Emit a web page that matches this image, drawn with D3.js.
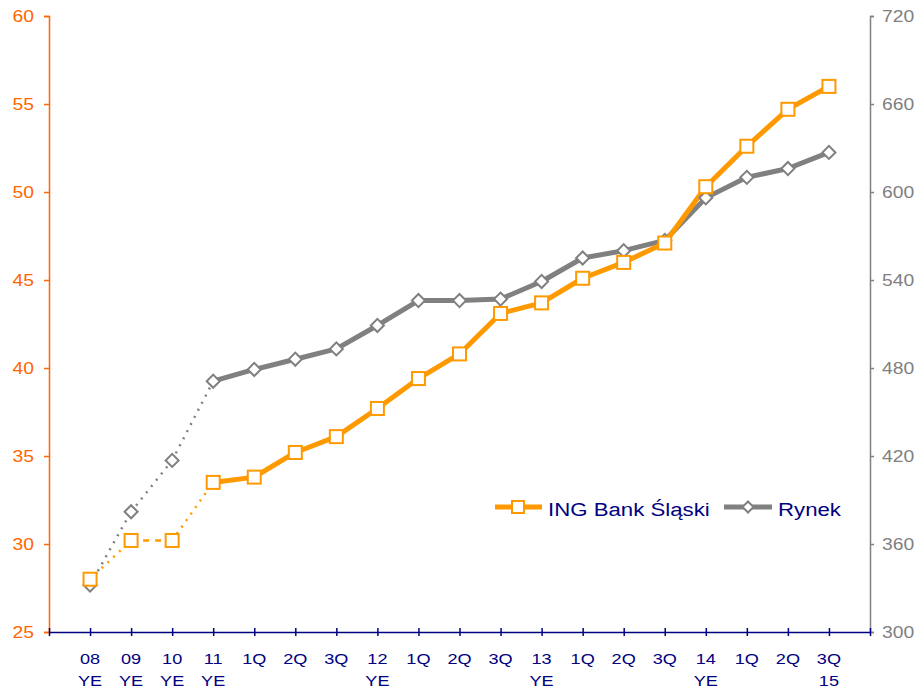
<!DOCTYPE html>
<html><head><meta charset="utf-8">
<script src="https://cdn.jsdelivr.net/npm/d3@7"></script>
<style>body{margin:0;background:#fff}svg{display:block;font-family:"Liberation Sans",Arial,sans-serif}</style>
</head><body><svg id="c" width="916" height="690"></svg>
<script>
const labelsTop = ["08","09","10","11","1Q","2Q","3Q","12","1Q","2Q","3Q","13","1Q","2Q","3Q","14","1Q","2Q","3Q"];
const labelsBottom = ["YE","YE","YE","YE","","","","YE","","","","YE","","","","YE","","","15"];
const ingValues = [28.0,30.2,30.2,33.5,33.8,35.2,36.1,37.7,39.4,40.8,43.1,43.7,45.1,46.0,47.1,50.3,52.6,54.7,56.0];
const rynekValues = [332,382,417,471,479,486,493,509,526,526,527,539,555,560,567,596,610,616,627];
const leftTicks = [25,30,35,40,45,50,55,60];
const rightTicks = [300,360,420,480,540,600,660,720];
const seriesNames = ["ING Bank Śląski","Rynek"];

const svg = d3.select("#c");
const L = 49, R = 870, T = 16, B = 632;
const SX = 1.17;
const x = d3.scaleLinear().domain([0, labelsTop.length + 1]).range([L, R]);
const yL = d3.scaleLinear().domain([25, 60]).range([B, T]);
const yR = d3.scaleLinear().domain([300, 720]).range([B, T]);
const orange = "#FF9900", gray = "#808080", navy = "#000080", axisOrange = "#FF6600";

function txt(g, tx, ty, s, size, color, anchor) {
  return g.append("text").attr("transform", `translate(${tx},${ty}) scale(${SX},1)`)
    .attr("text-anchor", anchor).attr("fill", color).style("font-size", size + "px").text(s);
}

// left axis
const gl = svg.append("g").attr("transform", `translate(${L},0)`)
  .call(d3.axisLeft(yL).tickValues(leftTicks).tickSize(5).tickFormat(""));
gl.select(".domain").attr("stroke", axisOrange).attr("stroke-width", 1.5);
gl.selectAll(".tick line").attr("stroke", axisOrange).attr("stroke-width", 1.5);
leftTicks.forEach(v => txt(svg, 34, yL(v) + 5.5, v, 16.5, axisOrange, "end"));

// right axis
const gr = svg.append("g").attr("transform", `translate(${R},0)`)
  .call(d3.axisRight(yR).tickValues(rightTicks).tickSize(4).tickFormat(""));
gr.select(".domain").attr("stroke", gray).attr("stroke-width", 1.5);
gr.selectAll(".tick line").attr("stroke", gray).attr("stroke-width", 1.5);
rightTicks.forEach(v => txt(svg, 882, yR(v) + 5.5, v, 16.5, gray, "start"));

// bottom axis
const idx = d3.range(0, labelsTop.length + 2);
const gb = svg.append("g").attr("transform", `translate(0,${B})`)
  .call(d3.axisBottom(x).tickValues(idx).tickSize(0).tickFormat(""));
gb.select(".domain").attr("stroke", navy).attr("stroke-width", 1.5);
gb.selectAll(".tick line").attr("y1", -4).attr("y2", 4).attr("stroke", navy).attr("stroke-width", 1.5);
const lab = svg.append("g");
labelsTop.forEach((t, i) => {
  txt(lab, x(i + 1), 664, t, 15.5, navy, "middle");
  if (labelsBottom[i]) txt(lab, x(i + 1), 686, labelsBottom[i], 15.5, navy, "middle");
});

function drawSeries(vals, y, color, dashed) {
  const pts = vals.map((v, i) => [x(i + 1), y(v)]);
  const line = d3.line();
  for (let i = 0; i < 3; i++) {
    const p = svg.append("path").attr("d", line([pts[i], pts[i + 1]])).attr("fill", "none")
      .attr("stroke", color).attr("stroke-width", 2.5);
    if (dashed.includes(i)) p.attr("stroke-dasharray", "6,6");
    else p.attr("stroke-dasharray", "2,6");
  }
  svg.append("path").attr("d", line(pts.slice(3))).attr("fill", "none")
    .attr("stroke", color).attr("stroke-width", 5).attr("stroke-linejoin", "round");
  return pts;
}

const pr = drawSeries(rynekValues, yR, gray, []);
const pi = drawSeries(ingValues, yL, orange, [1]);

// markers
svg.append("g").selectAll("path").data(pr).join("path")
  .attr("transform", d => `translate(${d[0]},${d[1]}) rotate(45)`)
  .attr("d", d3.symbol(d3.symbolSquare, 85)())
  .attr("fill", "#fff").attr("stroke", gray).attr("stroke-width", 2);
svg.append("g").selectAll("rect").data(pi).join("rect")
  .attr("x", d => d[0] - 6.5).attr("y", d => d[1] - 6.5).attr("width", 13).attr("height", 13)
  .attr("fill", "#fff").attr("stroke", orange).attr("stroke-width", 2);

// legend
const lg = svg.append("g");
lg.append("line").attr("x1", 495).attr("x2", 542).attr("y1", 507).attr("y2", 507).attr("stroke", orange).attr("stroke-width", 5);
lg.append("rect").attr("x", 512).attr("y", 501).attr("width", 12).attr("height", 12).attr("fill", "#fff").attr("stroke", orange).attr("stroke-width", 2);
txt(lg, 548, 516, seriesNames[0], 19, navy, "start");
lg.append("line").attr("x1", 724).attr("x2", 772).attr("y1", 507).attr("y2", 507).attr("stroke", gray).attr("stroke-width", 5);
lg.append("path").attr("transform", "translate(748,507) rotate(45)").attr("d", d3.symbol(d3.symbolSquare, 60)())
  .attr("fill", "#fff").attr("stroke", gray).attr("stroke-width", 2);
txt(lg, 778, 516, seriesNames[1], 19, navy, "start");
</script></body></html>
